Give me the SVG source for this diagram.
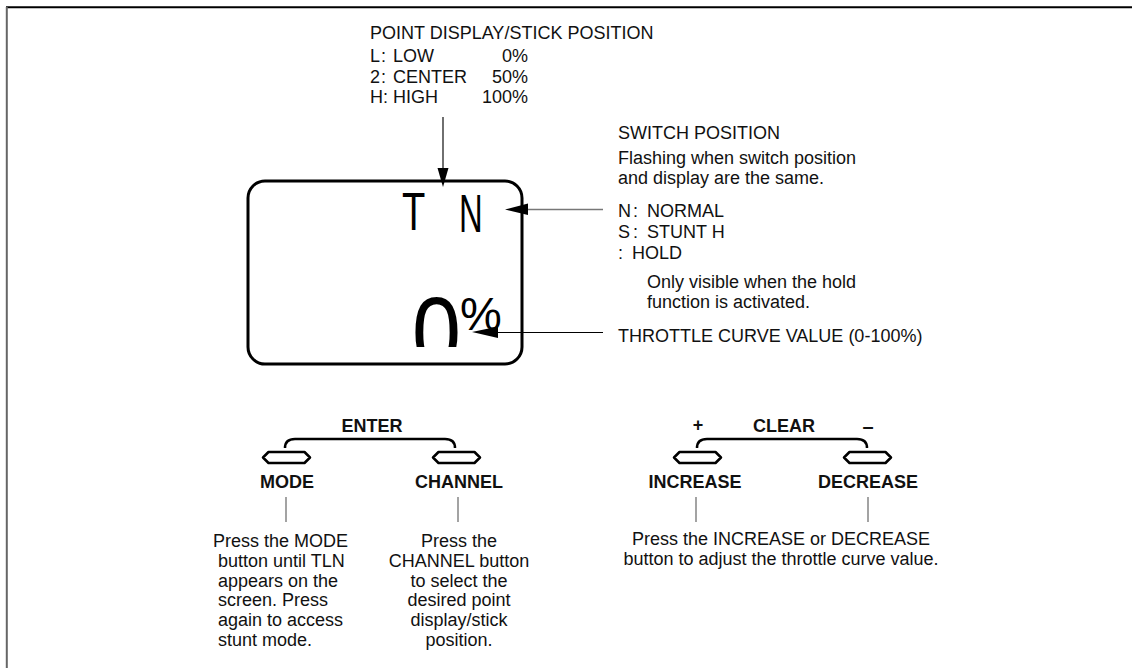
<svg xmlns="http://www.w3.org/2000/svg" width="1133" height="668" viewBox="0 0 1133 668">
<defs>
<style>
text{font-family:"Liberation Sans",Arial,sans-serif;font-size:18px;fill:#111}
.b{font-weight:bold}
.m{text-anchor:middle}
.e{text-anchor:end}
.lcd{font-size:53px;fill:#000}
.btn{fill:#fff;stroke:#000;stroke-width:2.5;stroke-linejoin:round}
.br{fill:none;stroke:#000;stroke-width:2.5}
.tick{stroke:#666;stroke-width:1.2}
</style>
<clipPath id="zc"><rect x="400" y="280" width="80" height="67"/></clipPath>
</defs>
<rect width="1133" height="668" fill="#fff"/>
<g id="frame">
<line x1="6" y1="7.2" x2="1132" y2="7.2" stroke="#000" stroke-width="2"/>
<line x1="6.8" y1="7" x2="6.8" y2="668" stroke="#666" stroke-width="2"/>
</g>
<g id="point-label">
<text x="370" y="39">POINT DISPLAY/STICK POSITION</text>
<text x="370" y="62">L</text><text x="381" y="62">:</text><text x="393" y="62">LOW</text><text class="e" x="528" y="62">0%</text>
<text x="370" y="83">2</text><text x="381" y="83">:</text><text x="393" y="83">CENTER</text><text class="e" x="528" y="83">50%</text>
<text x="370" y="103">H:</text><text x="393" y="103">HIGH</text><text class="e" x="528" y="103">100%</text>
</g>
<g id="screen">
<rect x="248" y="181" width="274" height="183" rx="17" fill="none" stroke="#000" stroke-width="3"/>
<text class="lcd" transform="translate(402,230) scale(0.72,1)" x="0" y="0">T</text>
<text class="lcd" transform="translate(459,232) scale(0.62,1)" x="0" y="0">N</text>
<g clip-path="url(#zc)"><text transform="translate(412,367) scale(0.88,1)" style="font-size:100px;fill:#000">0</text></g>
<text x="460" y="330" style="font-size:47px;fill:#000">%</text>
</g>
<g id="switch-label">
<text x="618" y="139">SWITCH POSITION</text>
<text x="618" y="164">Flashing when switch position</text>
<text x="618" y="184">and display are the same.</text>
<text x="618" y="217">N</text><text x="633" y="217">:</text><text x="647" y="217">NORMAL</text>
<text x="618" y="238">S</text><text x="633" y="238">:</text><text x="647" y="238">STUNT H</text>
<text x="618" y="259">:</text><text x="632" y="259">HOLD</text>
<text x="647" y="288">Only visible when the hold</text>
<text x="647" y="308">function is activated.</text>
</g>
<g id="throttle-label">
<text x="618" y="342">THROTTLE CURVE VALUE (0-100%)</text>
</g>
<g id="connectors">
<line x1="443" y1="117" x2="443" y2="170" stroke="#222" stroke-width="1.3"/>
<polygon points="437.5,168 448.5,168 443,187" fill="#000"/>
<line x1="526" y1="209.5" x2="603" y2="209.5" stroke="#777" stroke-width="1.3"/>
<polygon points="528,203.5 528,215 505,209.5" fill="#000"/>
<line x1="496" y1="332.5" x2="603" y2="332.5" stroke="#000" stroke-width="1.2"/>
<polygon points="498,326.5 498,338 472,332" fill="#000"/>
</g>
<g id="enter-group">
<text class="b m" x="372" y="432">ENTER</text>
<path class="br" d="M285,448 Q285,439 295,439 L445,439 Q455,439 455,448"/>
</g>
<g id="mode">
<polygon class="btn" points="263,457.5 268.5,452 304.5,452 310,457.5 304.5,463 268.5,463"/>
<text class="b m" x="287" y="488">MODE</text>
<line class="tick" x1="286" y1="497" x2="286" y2="522"/>
<text x="213" y="547">Press the MODE</text>
<text x="218" y="567">button until TLN</text>
<text x="218" y="587">appears on the</text>
<text x="218" y="606">screen. Press</text>
<text x="218" y="626">again to access</text>
<text x="218" y="646">stunt mode.</text>
</g>
<g id="channel">
<polygon class="btn" points="433,457.5 438.5,452 474.5,452 480,457.5 474.5,463 438.5,463"/>
<text class="b m" x="459" y="488">CHANNEL</text>
<line class="tick" x1="458" y1="497" x2="458" y2="522"/>
<text class="m" x="459" y="547">Press the</text>
<text class="m" x="459" y="567">CHANNEL button</text>
<text class="m" x="459" y="587">to select the</text>
<text class="m" x="459" y="606">desired point</text>
<text class="m" x="459" y="626">display/stick</text>
<text class="m" x="459" y="646">position.</text>
</g>
<g id="clear-group">
<text class="b m" x="698" y="431">+</text>
<text class="b m" x="784" y="432">CLEAR</text>
<text class="b m" x="868" y="433" style="font-size:20px">–</text>
<path class="br" d="M697,448 Q697,439 707,439 L857,439 Q867,439 867,448"/>
</g>
<g id="increase">
<polygon class="btn" points="674,457.5 679.5,452 715.5,452 721,457.5 715.5,463 679.5,463"/>
<text class="b m" x="695" y="488">INCREASE</text>
<line class="tick" x1="696" y1="497" x2="696" y2="522"/>
</g>
<g id="decrease">
<polygon class="btn" points="844,457.5 849.5,452 885.5,452 891,457.5 885.5,463 849.5,463"/>
<text class="b m" x="868" y="488">DECREASE</text>
<line class="tick" x1="868" y1="497" x2="868" y2="522"/>
</g>
<g id="adjust-text">
<text class="m" x="781" y="545">Press the INCREASE or DECREASE</text>
<text class="m" x="781" y="565">button to adjust the throttle curve value.</text>
</g>
</svg>
